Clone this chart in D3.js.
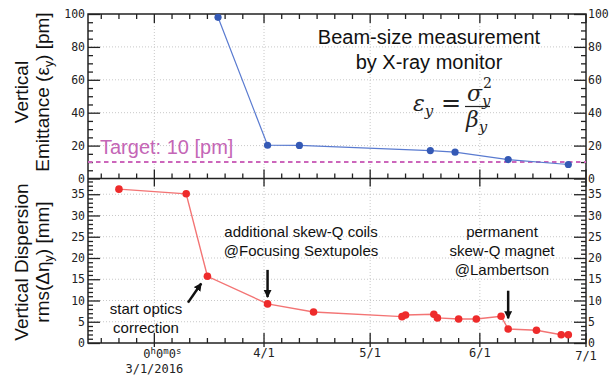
<!DOCTYPE html>
<html>
<head>
<meta charset="utf-8">
<script src="https://cdn.jsdelivr.net/npm/d3@7"></script>
<style>
  body { margin: 0; background: #fff; }
  svg { display: block; }
  .tick text { font-family: "DejaVu Sans Mono", monospace; }
  .lbl { font-family: "Liberation Sans", Arial, sans-serif; fill: #111; }
</style>
</head>
<body>
<svg width="614" height="376"></svg>
<script>
// emittance measurements (top panel) [pm]
const emitDates = ['2016-03-19', '2016-04-02', '2016-04-11', '2016-05-18', '2016-05-25', '2016-06-09', '2016-06-26'];
const emitValues = [98, 20.2, 20.1, 17.0, 16.0, 11.5, 8.5];

// vertical dispersion rms (bottom panel) [mm]
const dispDates = ['2016-02-20', '2016-03-10', '2016-03-16', '2016-04-02', '2016-04-15', '2016-05-10', '2016-05-11',
                   '2016-05-19', '2016-05-20', '2016-05-26', '2016-05-31', '2016-06-07', '2016-06-09', '2016-06-17',
                   '2016-06-24', '2016-06-26'];
const dispValues = [36.2, 35.1, 15.7, 9.2, 7.3, 6.2, 6.6, 6.75, 5.9, 5.65, 5.65, 6.3, 3.3, 3.0, 1.95, 1.95];

const targetValue = 10;
const emitTicks = [0, 20, 40, 60, 80, 100];
const dispTicks = [0, 5, 10, 15, 20, 25, 30, 35];

// arrows: [fromDate, fromValue, toDate, toValue]
const arrows = [
  ['2016-03-10T12', 9.5, '2016-03-14T06', 14.0],
  ['2016-04-02', 17.2, '2016-04-02', 10.8],
  ['2016-06-09', 12.3, '2016-06-09', 5.8]
];

const parse = s => new Date(s.length > 10 ? s + ':00Z' : s + 'T00:00Z');

const svg = d3.select('svg');
const pLeft = 88, pRight = 586, pTop = 14, pMid = 178.5, pBottom = 343;

const x = d3.scaleUtc()
    .domain([new Date(Date.UTC(2016, 1, 11, 6)), new Date(Date.UTC(2016, 6, 1))])
    .range([pLeft, pRight]);
const yTop = d3.scaleLinear().domain([0, 100]).range([pMid, pTop]);
const yBot = d3.scaleLinear().domain([0, 38.7]).range([pBottom, pMid]);

// month ticks + 5-day minor ticks
const mar1 = new Date(Date.UTC(2016, 2, 1));
const majorX = d3.utcMonth.range(mar1, new Date(Date.UTC(2016, 6, 2)));
let minorX = [];
for (let d = d3.utcDay.offset(mar1, -5); d > x.domain()[0]; d = d3.utcDay.offset(d, -5)) minorX.push(d);
d3.utcMonth.range(mar1, new Date(Date.UTC(2016, 6, 1))).forEach(m => {
  [5, 10, 15, 20, 25].forEach(k => minorX.push(d3.utcDay.offset(m, k)));
});

// grid
const grid = svg.append('g').attr('stroke', '#c8c8c8').attr('stroke-dasharray', '1,2').attr('stroke-width', 1);
majorX.filter(d => x(d) < pRight - 1).forEach(d => {
  grid.append('line').attr('x1', x(d)).attr('x2', x(d)).attr('y1', pTop).attr('y2', pBottom);
});
emitTicks.slice(1, -1).forEach(v => {
  grid.append('line').attr('x1', pLeft).attr('x2', pRight).attr('y1', yTop(v)).attr('y2', yTop(v));
});
dispTicks.slice(1).forEach(v => {
  grid.append('line').attr('x1', pLeft).attr('x2', pRight).attr('y1', yBot(v)).attr('y2', yBot(v));
});

// y axes (both sides)
function yAxes(scale, major, minorStep) {
  const minor = d3.range(0, scale.domain()[1] + 0.01, minorStep).filter(v => major.indexOf(v) < 0);
  const gL = svg.append('g').attr('transform', `translate(${pLeft},0)`);
  gL.call(d3.axisLeft(scale).tickValues(minor).tickSize(-5).tickFormat(''));
  gL.call(g => g.append('g').call(d3.axisLeft(scale).tickValues(major).tickSize(-12).tickPadding(3)));
  const gR = svg.append('g').attr('transform', `translate(${pRight},0)`);
  gR.call(d3.axisRight(scale).tickValues(minor).tickSize(-5).tickFormat(''));
  gR.call(g => g.append('g').call(d3.axisRight(scale).tickValues(major).tickSize(-12).tickPadding(2)));
  svg.selectAll('.domain').remove();
}
yAxes(yTop, emitTicks, 5);
yAxes(yBot, dispTicks, 1);
svg.selectAll('.tick line').attr('stroke', '#222').attr('stroke-width', 1.3);
svg.selectAll('.tick text').attr('font-size', 11.5).attr('fill', '#222');

// x ticks on the frame edges
const xt = svg.append('g').attr('stroke', '#222').attr('stroke-width', 1.3);
minorX.forEach(d => {
  xt.append('line').attr('x1', x(d)).attr('x2', x(d)).attr('y1', pTop).attr('y2', pTop + 5);
  xt.append('line').attr('x1', x(d)).attr('x2', x(d)).attr('y1', pMid).attr('y2', pMid - 5);
  xt.append('line').attr('x1', x(d)).attr('x2', x(d)).attr('y1', pBottom).attr('y2', pBottom - 5);
});
majorX.forEach(d => {
  xt.append('line').attr('x1', x(d)).attr('x2', x(d)).attr('y1', pTop).attr('y2', pTop + 9);
  xt.append('line').attr('x1', x(d)).attr('x2', x(d)).attr('y1', pMid - 9).attr('y2', pMid + 8);
  xt.append('line').attr('x1', x(d)).attr('x2', x(d)).attr('y1', pBottom - 10).attr('y2', pBottom + 4);
});

// frame
svg.append('rect').attr('x', pLeft).attr('y', pTop).attr('width', pRight - pLeft).attr('height', pBottom - pTop)
  .attr('fill', 'none').attr('stroke', '#222').attr('stroke-width', 1.5);
svg.append('line').attr('x1', pLeft).attr('x2', pRight).attr('y1', pMid).attr('y2', pMid)
  .attr('stroke', '#222').attr('stroke-width', 1.5);

// x labels
const fmt = d3.utcFormat('%-m/%-d');
const xl = svg.append('g').attr('font-family', '"DejaVu Sans Mono", monospace').attr('font-size', 12)
  .attr('fill', '#222').attr('text-anchor', 'middle');
majorX.forEach(d => {
  if (+d === +mar1) {
    const t = xl.append('text').attr('x', x(d) + 8).attr('y', 358);
    ['0', 'h', '0', 'm', '0', 's'].forEach((c, i) => {
      t.append('tspan').text(c)
        .attr('font-size', i % 2 ? 9 : 12)
        .attr('dy', i === 0 ? 0 : (i % 2 ? -4 : 4));
    });
    xl.append('text').attr('x', x(d)).attr('y', 373).text('3/1/2016');
  } else {
    xl.append('text').attr('x', x(d)).attr('y', x(d) > pRight - 1 ? 360 : 357).text(fmt(d));
  }
});

// target line
svg.append('line').attr('x1', pLeft).attr('x2', pRight).attr('y1', yTop(targetValue)).attr('y2', yTop(targetValue))
  .attr('stroke', '#cc66bb').attr('stroke-width', 2).attr('stroke-dasharray', '4.5,3.5');
svg.append('text').attr('class', 'lbl').attr('x', 100).attr('y', 154).attr('font-size', 20)
  .style('fill', '#c466b6').text('Target: ' + targetValue + ' [pm]');

// series
const emit = emitDates.map((d, i) => ({date: parse(d), v: emitValues[i]}));
const disp = dispDates.map((d, i) => ({date: parse(d), v: dispValues[i]}));

svg.append('path').datum(emit)
  .attr('d', d3.line().x(d => x(d.date)).y(d => yTop(d.v)))
  .attr('fill', 'none').attr('stroke', '#5a7bd0').attr('stroke-width', 1.2);
svg.append('g').selectAll('circle').data(emit).enter().append('circle')
  .attr('cx', d => x(d.date)).attr('cy', d => yTop(d.v)).attr('r', 3.6).attr('fill', '#3459b5');

svg.append('path').datum(disp)
  .attr('d', d3.line().x(d => x(d.date)).y(d => yBot(d.v)))
  .attr('fill', 'none').attr('stroke', '#f37474').attr('stroke-width', 1.4);
svg.append('g').selectAll('circle').data(disp).enter().append('circle')
  .attr('cx', d => x(d.date)).attr('cy', d => yBot(d.v)).attr('r', 3.8).attr('fill', '#ee2b2b');

// arrows
svg.append('defs').append('marker').attr('id', 'head').attr('viewBox', '0 0 10 10')
  .attr('refX', 9).attr('refY', 5).attr('markerWidth', 3.2).attr('markerHeight', 3.2)
  .attr('orient', 'auto').append('path').attr('d', 'M0,0L10,5L0,10z').attr('fill', '#111');
arrows.forEach(a => {
  svg.append('line')
    .attr('x1', x(parse(a[0]))).attr('y1', yBot(a[1]))
    .attr('x2', x(parse(a[2]))).attr('y2', yBot(a[3]))
    .attr('stroke', '#111').attr('stroke-width', 2.5).attr('marker-end', 'url(#head)');
});

// annotations
function lines(xc, y0, dy, arr, size) {
  arr.forEach((s, i) => {
    svg.append('text').attr('class', 'lbl').attr('x', xc).attr('y', y0 + i * dy)
      .attr('text-anchor', 'middle').attr('font-size', size).text(s);
  });
}
lines(146, 314, 19, ['start optics', 'correction'], 15);
lines(301, 237, 19, ['additional skew-Q coils', '@Focusing Sextupoles'], 15);
lines(502, 237, 19, ['permanent', 'skew-Q magnet', '@Lambertson'], 15);
lines(429, 44, 25, ['Beam-size measurement', 'by X-ray monitor'], 20);

// formula
const f = svg.append('g').attr('font-family', '"DejaVu Serif", serif').attr('fill', '#222');
const e = f.append('text').attr('x', 413).attr('y', 111).attr('font-size', 22).attr('font-style', 'italic');
e.append('tspan').text('ε');
e.append('tspan').text('y').attr('font-size', 15).attr('dy', 5);
f.append('text').attr('x', 441).attr('y', 111).attr('font-size', 24).text('=');
const s = f.append('text').attr('x', 467).attr('y', 101).attr('font-size', 22).attr('font-style', 'italic');
s.append('tspan').text('σ');
s.append('tspan').text('y').attr('font-size', 15).attr('dy', 5);
f.append('text').attr('x', 483).attr('y', 88).attr('font-size', 14).text('2');
f.append('line').attr('x1', 465).attr('x2', 490).attr('y1', 106.5).attr('y2', 106.5)
  .attr('stroke', '#222').attr('stroke-width', 1.2);
const b = f.append('text').attr('x', 466).attr('y', 127).attr('font-size', 22).attr('font-style', 'italic');
b.append('tspan').text('β');
b.append('tspan').text('y').attr('font-size', 15).attr('dy', 5);

// y axis titles
function ytitle(xb, yc, parts, size) {
  const t = svg.append('text').attr('class', 'lbl').attr('font-size', size).attr('text-anchor', 'middle')
    .attr('transform', `translate(${xb},${yc}) rotate(-90)`);
  parts.forEach(p => {
    const ts = t.append('tspan').text(p[0]);
    if (p.length > 1) ts.attr('dy', p[1]);
    if (p.length > 2) ts.attr('font-size', size * 0.65);
  });
}
ytitle(28, 92, [['Vertical']], 19);
ytitle(49, 92, [['Emittance (ε'], ['y', 4, 'sub'], [') [pm]', -4]], 19);
ytitle(28, 262, [['Vertical Dispersion']], 19);
ytitle(49, 262, [['rms(Δη'], ['y', 4, 'sub'], [') [mm]', -4]], 19);
</script>
</body>
</html>
